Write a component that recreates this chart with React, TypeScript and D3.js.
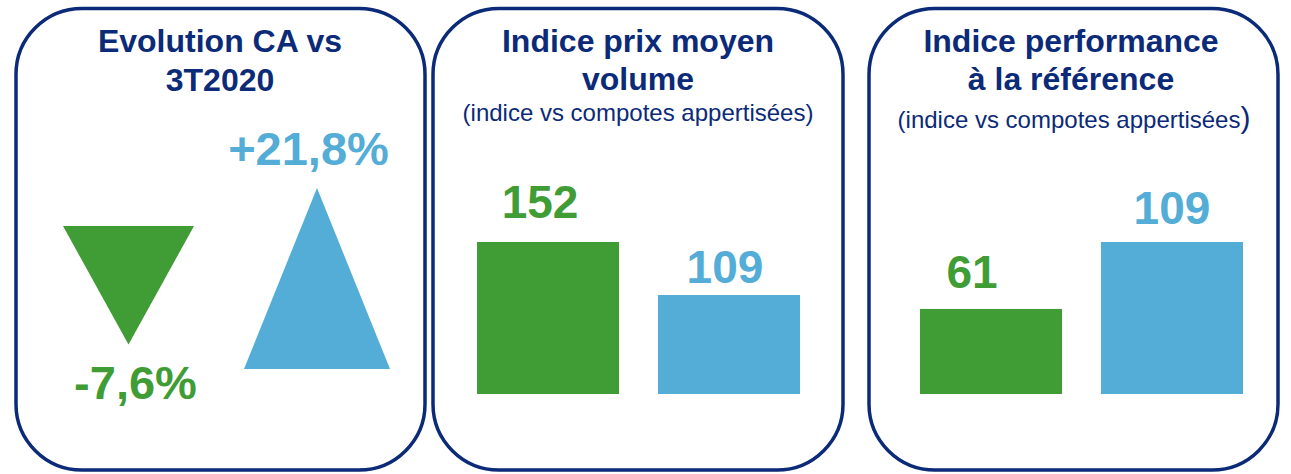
import React from "react";
import * as d3 from "d3";

// ---- data ----
const evoCategories = ["Marque", "Marché"];
const evoValues = [-7.6, 21.8];
const evoLabels = ["-7,6%", "+21,8%"];

const prixCategories = ["Marque", "Marché"];
const prixValues = [152, 109];

const perfCategories = ["Marque", "Marché"];
const perfValues = [61, 109];

const titles = [
  ["Evolution CA vs", "3T2020"],
  ["Indice prix moyen", "volume"],
  ["Indice performance", "à la référence"],
];
const subtitle = "(indice vs compotes appertisées";

const colors = ["#409c35", "#53add6"];
const NAVY = "#0b2a78";
const FONT = "'Liberation Sans', Arial, sans-serif";

const W = 1291;
const H = 474;

const panels = [
  { x: 16, w: 409 },
  { x: 433, w: 410 },
  { x: 869, w: 409 },
];

function BarPanel({ cats, vals, range, domain, labelDx, labelDy }) {
  const x = d3.scaleBand().domain(cats).range(range).paddingInner(0.215).paddingOuter(0);
  const y = d3.scaleLinear().domain(domain).range([394, 242]);
  return (
    <g>
      {cats.map((c, i) => (
        <g key={c}>
          <rect
            x={x(c)}
            y={y(vals[i])}
            width={x.bandwidth()}
            height={394 - y(vals[i])}
            fill={colors[i]}
          />
          <text
            x={x(c) + x.bandwidth() / 2 + labelDx[i]}
            y={y(vals[i]) - labelDy[i]}
            textAnchor="middle"
            fontFamily={FONT}
            fontWeight="bold"
            fontSize={46}
            fill={colors[i]}
          >
            {vals[i]}
          </text>
        </g>
      ))}
    </g>
  );
}

export default function App() {
  const tx = d3.scalePoint().domain(evoCategories).range([128.5, 317]);
  const th = d3.scaleLinear().domain([0, 21.8]).range([85, 181]);
  const tw = d3.scaleLinear().domain([0, 21.8]).range([123, 146]);
  const posBase = 369;
  const negBase = 226;

  const tri = (v, cx) => {
    const a = Math.abs(v);
    const h = th(a);
    const w = tw(a);
    const p = d3.path();
    if (v >= 0) {
      p.moveTo(cx - w / 2, posBase);
      p.lineTo(cx + w / 2, posBase);
      p.lineTo(cx, posBase - h);
    } else {
      p.moveTo(cx - w / 2, negBase);
      p.lineTo(cx + w / 2, negBase);
      p.lineTo(cx, negBase + h);
    }
    p.closePath();
    return p.toString();
  };

  return (
    <svg
      width={W}
      height={H}
      style={{ position: "absolute", left: 0, top: 0, display: "block", background: "#fff" }}
    >
      <rect width={W} height={H} fill="#fff" />
      {panels.map((p, i) => (
        <rect
          key={i}
          x={p.x}
          y={8.5}
          width={p.w}
          height={461.5}
          rx={66}
          ry={66}
          fill="none"
          stroke={NAVY}
          strokeWidth={3.5}
        />
      ))}

      {[220, 638, 1071].map((cx, i) => (
        <text key={i} textAnchor="middle" fontFamily={FONT} fontWeight="bold" fontSize={32} fill={NAVY}>
          <tspan x={cx} y={52}>{titles[i][0]}</tspan>
          <tspan x={cx} y={i === 0 ? 91 : 90}>{titles[i][1]}</tspan>
        </text>
      ))}
      <text x={638} y={121} textAnchor="middle" fontFamily={FONT} fontSize={24} fill={NAVY}>
        {subtitle + ")"}
      </text>
      <text x={1074} y={128} textAnchor="middle" fontFamily={FONT} fontSize={24} fill={NAVY}>
        {subtitle}
        <tspan fontSize={30}>)</tspan>
      </text>

      {evoCategories.map((c, i) => {
        const v = evoValues[i];
        const cx = tx(c);
        const h = th(Math.abs(v));
        const ly = v >= 0 ? posBase - h - 23 : negBase + h + 55;
        return (
          <g key={c}>
            <path d={tri(v, cx)} fill={colors[i]} />
            <text
              x={cx + (v >= 0 ? -8.5 : 7)}
              y={ly}
              textAnchor="middle"
              fontFamily={FONT}
              fontWeight="bold"
              fontSize={47}
              fill={colors[i]}
            >
              {evoLabels[i]}
            </text>
          </g>
        );
      })}

      <BarPanel
        cats={prixCategories}
        vals={prixValues}
        range={[477, 800]}
        domain={[28.7, 152]}
        labelDx={[-8, -4]}
        labelDy={[24, 12]}
      />
      <BarPanel
        cats={perfCategories}
        vals={perfValues}
        range={[920, 1243]}
        domain={[0, 109]}
        labelDx={[-19, 0]}
        labelDy={[21, 18]}
      />
    </svg>
  );
}
